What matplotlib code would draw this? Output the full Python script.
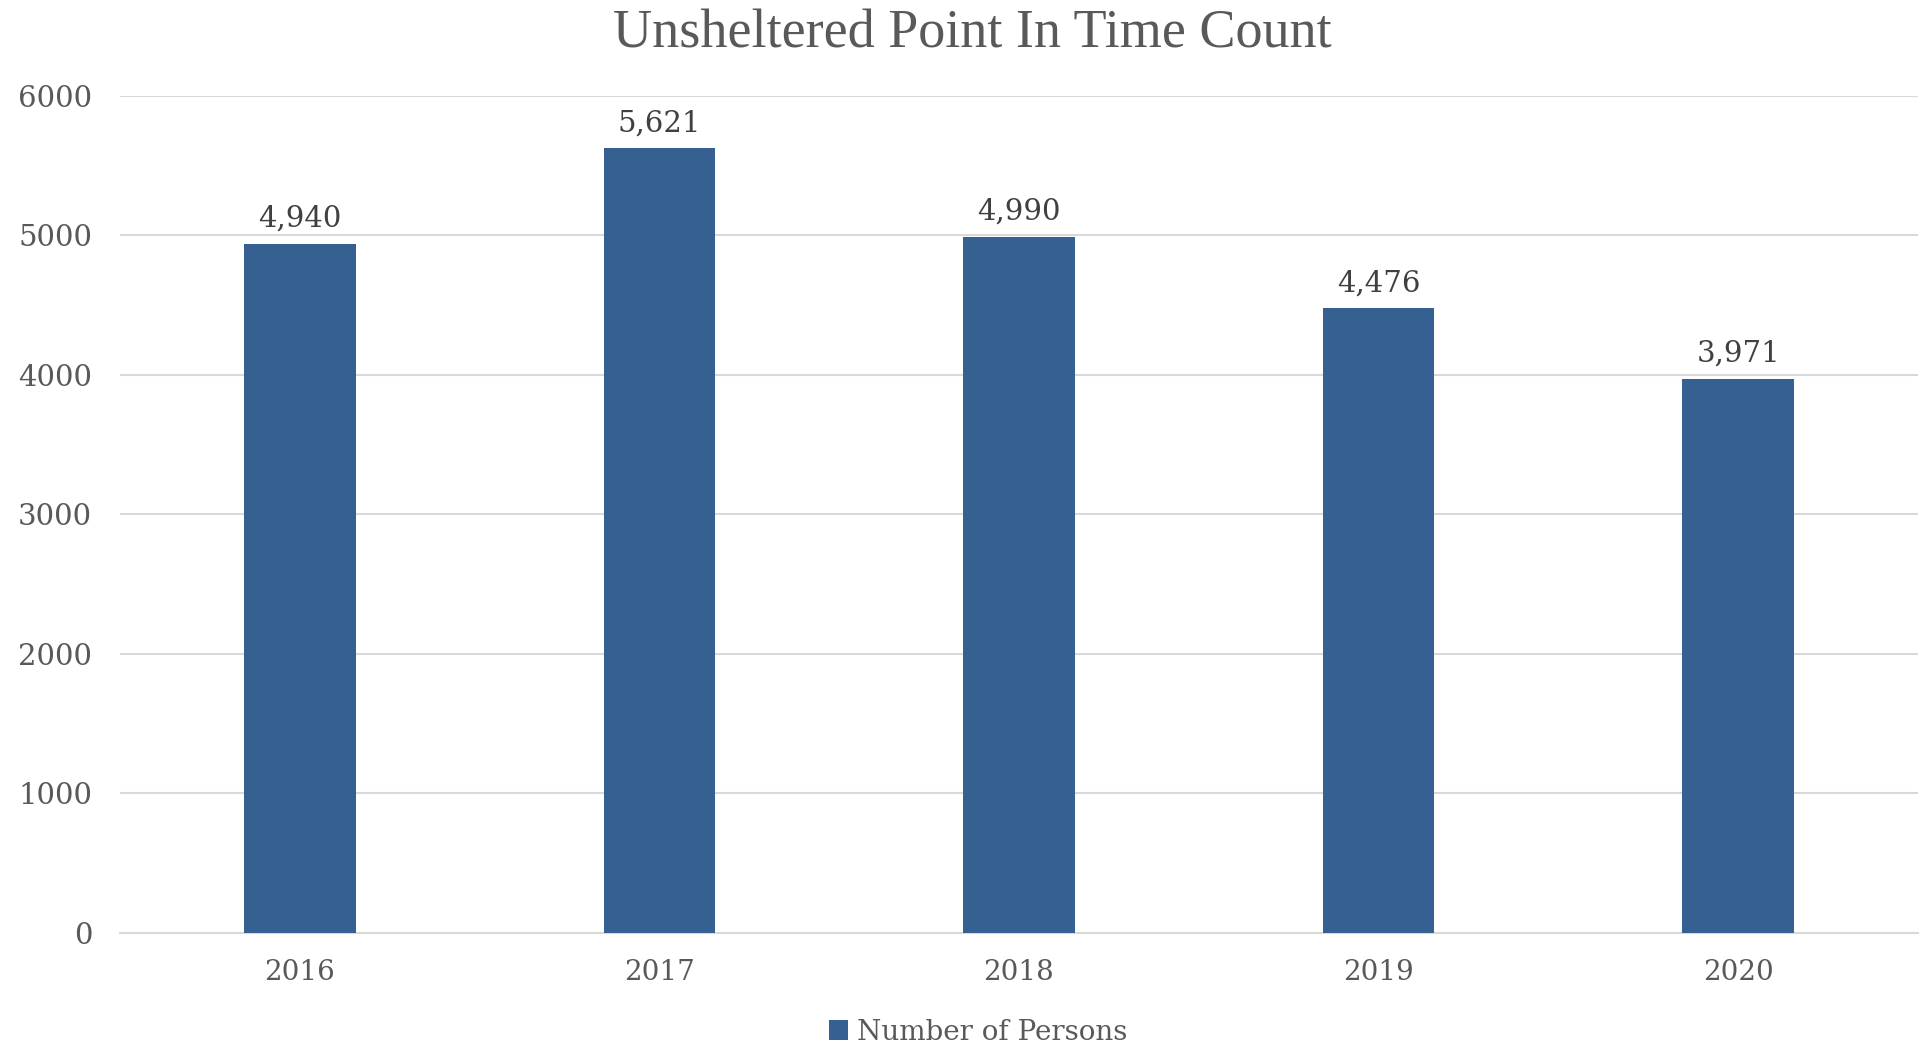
import matplotlib.pyplot as plt

# data
years = ['2016', '2017', '2018', '2019', '2020']
persons = [4940, 5621, 4990, 4476, 3971]
yticks = [0, 1000, 2000, 3000, 4000, 5000, 6000]

bar_color = '#376092'
text_gray = '#595959'
grid_gray = '#d9d9d9'

plt.rcParams['font.family'] = ['DejaVu Serif']

fig = plt.figure(figsize=(19.22, 10.5), dpi=100)
ax = fig.add_axes([120 / 1922, 1 - 933 / 1050, 1798 / 1922, (933 - 95.6) / 1050])

x = range(len(years))
bars = ax.bar(x, persons, width=0.31, color=bar_color, label='Number of Persons', zorder=3)

for i, v in enumerate(persons):
    ax.annotate(f'{v:,}', (i, v), xytext=(0, 8), textcoords='offset points',
                ha='center', va='bottom', fontsize=21, color='#404040')

ax.set_xlim(-0.5, len(years) - 0.5)
ax.set_ylim(0, 6000)
ax.set_yticks(yticks)
ax.set_xticks(list(x))
ax.set_xticklabels(years)
ax.grid(axis='y', color=grid_gray, linewidth=1.5, zorder=0)
for s in ['top', 'right', 'left']:
    ax.spines[s].set_visible(False)
ax.spines['bottom'].set_color(grid_gray)
ax.spines['bottom'].set_linewidth(1.5)
ax.tick_params(axis='both', length=0, labelcolor=text_gray)
ax.tick_params(axis='y', pad=20, labelsize=21)
ax.tick_params(axis='x', pad=19, labelsize=20)

fig.text(972 / 1922, 1 - 34 / 1050, 'Unsheltered Point In Time Count', ha='center', va='center',
         fontsize=39, color=text_gray, family='Liberation Serif')

fig.legend(handles=[bars], labels=['Number of Persons'], loc='center',
           bbox_to_anchor=(978 / 1922, 1 - 1032 / 1050), frameon=False,
           fontsize=20, labelcolor=text_gray, handlelength=0.7, handleheight=0.7,
           handletextpad=0.3)

fig.savefig('out.png', dpi=100)
